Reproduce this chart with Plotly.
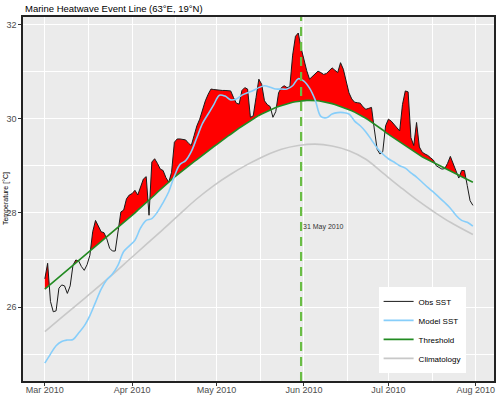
import numpy as np
import pandas as pd
import plotly.graph_objects as go

# daily observed SST, 1 Mar - 31 Jul 2010
obs_sst = [26.60, 26.93, 26.12, 25.90, 25.92, 26.40, 26.47, 26.45, 26.29, 26.45,
           26.89, 27.00, 26.98, 26.86, 26.78, 26.90, 27.10, 27.60, 27.84, 27.72,
           27.60, 27.58, 27.45, 27.25, 27.19, 27.19, 27.56, 28.02, 28.06, 28.30,
           28.38, 28.41, 28.48, 28.38, 28.55, 28.72, 28.77, 27.95, 29.08, 29.15,
           29.05, 28.93, 28.90, 28.75, 28.65, 28.86, 29.50, 29.57, 29.57, 29.56,
           29.55, 29.48, 29.43, 29.64, 29.85, 29.99, 30.20, 30.38, 30.52, 30.63,
           30.62, 30.61, 30.61, 30.60, 30.60, 30.60, 30.59, 30.45, 30.33, 30.31,
           30.60, 30.66, 30.63, 30.03, 30.06, 30.45, 30.84, 30.73, 30.38, 30.30,
           30.26, 30.03, 30.15, 30.55, 30.66, 30.70, 30.66, 30.68, 31.35, 31.75,
           31.82, 31.50, 31.25, 31.02, 30.84, 30.90, 30.95, 31.01, 30.98, 30.94,
           30.96, 31.02, 31.08, 31.03, 30.98, 31.19, 31.05, 30.80, 30.55, 30.42,
           30.35, 30.34, 30.33, 30.25, 30.20, 30.22, 30.24, 29.78, 29.35, 29.25,
           29.30, 29.85, 29.99, 29.95, 29.88, 29.80, 29.74, 30.30, 30.59, 30.57,
           29.60, 29.43, 29.92, 29.40, 29.29, 29.25, 29.22, 29.17, 29.12, 29.00,
           28.96, 28.93, 28.94, 29.05, 29.20, 29.05, 28.86, 28.74, 28.90, 28.90,
           28.58, 28.26, 28.16]

# daily 90th percentile threshold, same dates
threshold = [26.38, 26.43, 26.48, 26.53, 26.58, 26.63, 26.68, 26.73, 26.78, 26.83,
             26.88, 26.93, 26.98, 27.03, 27.08, 27.13, 27.18, 27.23, 27.28, 27.33,
             27.38, 27.43, 27.48, 27.53, 27.58, 27.63, 27.68, 27.73, 27.79, 27.84,
             27.90, 27.95, 28.00, 28.06, 28.11, 28.17, 28.22, 28.27, 28.33, 28.38,
             28.44, 28.49, 28.55, 28.60, 28.65, 28.71, 28.76, 28.81, 28.85, 28.90,
             28.95, 28.99, 29.04, 29.09, 29.13, 29.18, 29.23, 29.27, 29.32, 29.36,
             29.41, 29.45, 29.50, 29.54, 29.59, 29.63, 29.67, 29.72, 29.76, 29.80,
             29.84, 29.88, 29.92, 29.96, 30.00, 30.03, 30.07, 30.10, 30.13, 30.16,
             30.19, 30.21, 30.24, 30.26, 30.28, 30.30, 30.32, 30.33, 30.35, 30.36,
             30.37, 30.38, 30.38, 30.39, 30.39, 30.39, 30.38, 30.38, 30.37, 30.36,
             30.35, 30.33, 30.32, 30.30, 30.28, 30.26, 30.24, 30.22, 30.19, 30.17,
             30.14, 30.11, 30.08, 30.05, 30.01, 29.97, 29.93, 29.89, 29.85, 29.80,
             29.76, 29.71, 29.67, 29.63, 29.59, 29.55, 29.51, 29.47, 29.43, 29.39,
             29.35, 29.31, 29.26, 29.22, 29.19, 29.16, 29.13, 29.10, 29.07, 29.04,
             29.01, 28.98, 28.95, 28.92, 28.89, 28.86, 28.83, 28.80, 28.77, 28.74,
             28.71, 28.68, 28.65]

# model SST, every second day
model_sst = [24.81, 25.00, 25.18, 25.27, 25.30, 25.31, 25.45, 25.60, 25.82, 26.10,
             26.38, 26.58, 26.70, 26.89, 27.18, 27.30, 27.42, 27.68, 27.84, 27.88,
             28.02, 28.22, 28.45, 28.78, 29.03, 29.11, 29.30, 29.60, 29.90, 30.10,
             30.30, 30.50, 30.48, 30.40, 30.42, 30.50, 30.55, 30.60, 30.66, 30.70,
             30.67, 30.63, 30.63, 30.63, 30.70, 30.85, 30.80, 30.65, 30.40, 30.05,
             30.02, 30.10, 30.13, 30.13, 30.10, 29.95, 29.85, 29.72, 29.55, 29.38,
             29.25, 29.15, 29.08, 29.00, 28.95, 28.85, 28.76, 28.65, 28.54, 28.44,
             28.33, 28.22, 28.10, 27.95, 27.84, 27.80, 27.72]

# climatology (days after 1 Mar)
clim_days = [0, 6, 12, 18, 24, 30, 36, 42, 48, 54, 60, 66, 72, 78, 84, 90, 96,
             102, 108, 114, 120, 126, 132, 138, 144, 152]
climatology = [25.48, 25.78, 26.08, 26.38, 26.69, 27.01, 27.33, 27.65, 27.98, 28.30,
               28.58, 28.82, 29.03, 29.21, 29.35, 29.43, 29.46, 29.42, 29.32, 29.14,
               28.85, 28.56, 28.28, 28.03, 27.80, 27.54]

peak_date = "2010-05-31"
peak_label = "31 May 2010"

start = pd.Timestamp("2010-03-01")
obs_dates = pd.date_range(start, periods=len(obs_sst), freq="D")
model_dates = pd.date_range(start, periods=len(model_sst), freq="2D")
clim_dates = start + pd.to_timedelta(clim_days, unit="D")

# red area where obs > threshold, with crossing points added
o = np.array(obs_sst)
t = np.array(threshold)
fd, flo, fhi = [], [], []
for i in range(len(o)):
    fd.append(float(i)); flo.append(t[i]); fhi.append(max(o[i], t[i]))
    if i < len(o) - 1:
        d0, d1 = o[i] - t[i], o[i + 1] - t[i + 1]
        if d0 * d1 < 0:
            f = d0 / (d0 - d1)
            yc = t[i] + f * (t[i + 1] - t[i])
            fd.append(i + f); flo.append(yc); fhi.append(yc)
fill_dates = start + pd.to_timedelta(fd, unit="D")

font = "Liberation Sans"
fig = go.Figure()

fig.add_trace(go.Scatter(x=fill_dates, y=flo, mode="lines", line=dict(width=0),
                         showlegend=False, hoverinfo="skip"))
fig.add_trace(go.Scatter(x=fill_dates, y=fhi, mode="lines", line=dict(width=0),
                         fill="tonexty", fillcolor="#FF0000", showlegend=False,
                         hoverinfo="skip"))
fig.add_trace(go.Scatter(x=clim_dates, y=climatology, mode="lines", name="Climatology",
                         line=dict(color="#C8C8C8", width=1.6, shape="spline"),
                         legendrank=4))
fig.add_trace(go.Scatter(x=obs_dates, y=obs_sst, mode="lines", name="Obs SST",
                         line=dict(color="#1A1A1A", width=1), legendrank=1))
fig.add_trace(go.Scatter(x=obs_dates, y=threshold, mode="lines", name="Threshold",
                         line=dict(color="#228B22", width=1.6), legendrank=3))
fig.add_trace(go.Scatter(x=model_dates, y=model_sst, mode="lines", name="Model SST",
                         line=dict(color="#87CEFA", width=1.6, shape="spline"),
                         legendrank=2))

fig.add_shape(type="line", x0=peak_date, x1=peak_date, yref="paper", y0=0, y1=1,
              line=dict(color="#6ABD45", width=2.2, dash="9px,6px"), layer="above")
fig.add_annotation(x=peak_date, y=27.71, text=peak_label, showarrow=False,
                   xanchor="left", yanchor="middle", xshift=0,
                   font=dict(family=font, size=7, color="#333333"))
fig.add_annotation(xref="paper", yref="paper", x=-0.036, y=0.5, text="Temperature [°C]",
                   textangle=-90, showarrow=False, xanchor="center", yanchor="middle",
                   font=dict(family=font, size=7, color="#000000"))

fig.update_layout(
    width=500, height=397,
    margin=dict(l=23, r=6, t=17, b=16),
    paper_bgcolor="white", plot_bgcolor="#EBEBEB",
    font=dict(family=font, size=9, color="#4D4D4D"),
    title=dict(text="Marine Heatwave Event Line (63°E, 19°N)", x=0.05, xanchor="left",
               xref="container", y=0.977, yanchor="middle",
               font=dict(family=font, size=9.5, color="#000000")),
    legend=dict(x=0.755, y=0.2585, xanchor="left", yanchor="top", bgcolor="white",
                font=dict(family=font, size=8, color="#000000"), traceorder="normal"),
)
fig.update_xaxes(range=["2010-02-21 06:00", "2010-08-07 12:00"], tickformat="%b %Y",
                 dtick="M1", tick0="2010-03-01", showgrid=True, gridcolor="white",
                 gridwidth=1.2, minor=dict(dtick="M1", tick0="2010-02-16 12:00",
                                           showgrid=True, gridcolor="white", gridwidth=0.6),
                 showline=True, linecolor="#222222", linewidth=1.5, mirror=True,
                 ticks="outside", ticklen=3, tickcolor="#333333", zeroline=False,
                 ticklabelstandoff=-4, automargin=False)
fig.update_yaxes(range=[24.43, 32.16], dtick=2, tick0=26, showgrid=True, gridcolor="white",
                 gridwidth=1.2, minor=dict(dtick=1, showgrid=True, gridcolor="white",
                                           gridwidth=0.6),
                 showline=True, linecolor="#222222", linewidth=1.5, mirror=True,
                 ticks="outside", ticklen=3, tickcolor="#333333", zeroline=False,
                 automargin=False)

# page body has a default 8px margin; drop it so the figure fills the window
fig.write_html("out.html", config={"displayModeBar": False},
               post_script="document.body.style.margin='0';")
